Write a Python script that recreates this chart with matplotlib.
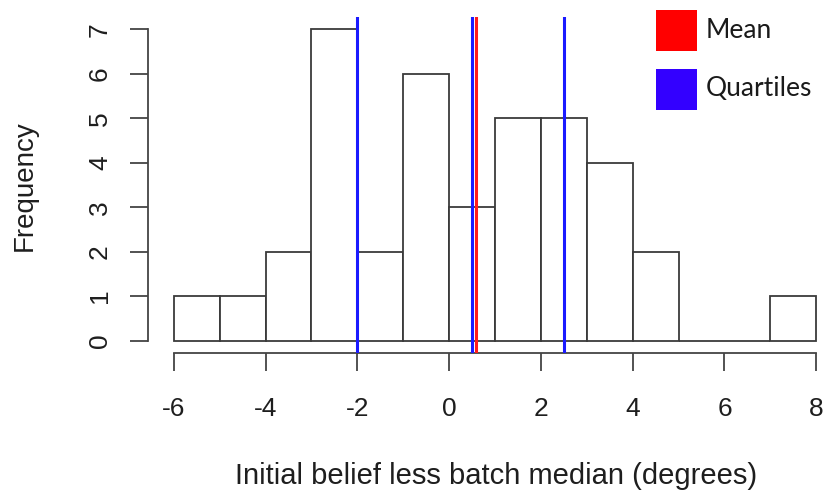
import numpy as np
import matplotlib.pyplot as plt
from matplotlib.patches import Rectangle

# histogram of initial belief minus batch median, unit-width bins
bin_edges = np.arange(-6, 9)
counts = [1, 1, 2, 7, 2, 6, 3, 5, 5, 4, 2, 0, 0, 1]
quartiles = [-2.0, 0.5, 2.5]
mean_value = 0.58

plt.rcParams['font.family'] = ['Liberation Sans', 'DejaVu Sans']
plt.rcParams['axes.unicode_minus'] = False

fig = plt.figure(figsize=(8.25, 4.95), dpi=100)
ax = fig.add_axes([148 / 825, 1 - 353 / 495, (842 - 148) / 825, (353 - 17) / 495])

ax.bar(bin_edges[:-1], counts, width=1, align='edge', facecolor='white',
       edgecolor='#3a3a3a', linewidth=1.3, zorder=2)

for q in quartiles:
    ax.axvline(q, color='#1a1aff', linewidth=2.2, zorder=3)
ax.axvline(mean_value, color='#ff1a1a', linewidth=2.2, zorder=3)

# R-style axes: spines only span the tick range
ax.set_xlim(-6.56, 8.56)
ax.set_ylim(-0.28, 7.28)
for side in ['top', 'right']:
    ax.spines[side].set_visible(False)
ax.spines['left'].set_bounds(0, 7)
ax.spines['bottom'].set_bounds(-6, 8)
for side in ['left', 'bottom']:
    ax.spines[side].set_color('#444444')
    ax.spines[side].set_linewidth(1.3)

ax.set_xticks(np.arange(-6, 9, 2))
ax.set_yticks(range(0, 8))
ax.tick_params(axis='both', length=13, width=1.3, color='#444444',
               labelsize=19, labelcolor='#1e1e1e')
ax.tick_params(axis='x', pad=19)
ax.tick_params(axis='y', pad=13)
for lbl in ax.get_yticklabels():
    lbl.set_rotation(90)
    lbl.set_va('center')

ax.set_xlabel('Initial belief less batch median (degrees)', fontsize=21,
              color='#1e1e1e', va='center')
ax.xaxis.set_label_coords(0.501, -0.366)
ax.set_ylabel('Frequency', fontsize=20, color='#1e1e1e', va='center')
ax.yaxis.set_label_coords(-0.177, 0.497)

# legend squares with labels
legend_items = [('Mean', '#ff0000', 10), ('Quartiles', '#3300ff', 69)]
for label, colour, top in legend_items:
    fig.add_artist(Rectangle((656 / 825, 1 - (top + 41) / 495), 41 / 825, 41 / 495,
                             transform=fig.transFigure, facecolor=colour,
                             edgecolor='none'))
    fig.text(706 / 825, 1 - (top + 20) / 495, label, fontsize=19, family='Lato',
             va='center', ha='left', color='#1a1a1a')

fig.savefig('out.png', dpi=100)
